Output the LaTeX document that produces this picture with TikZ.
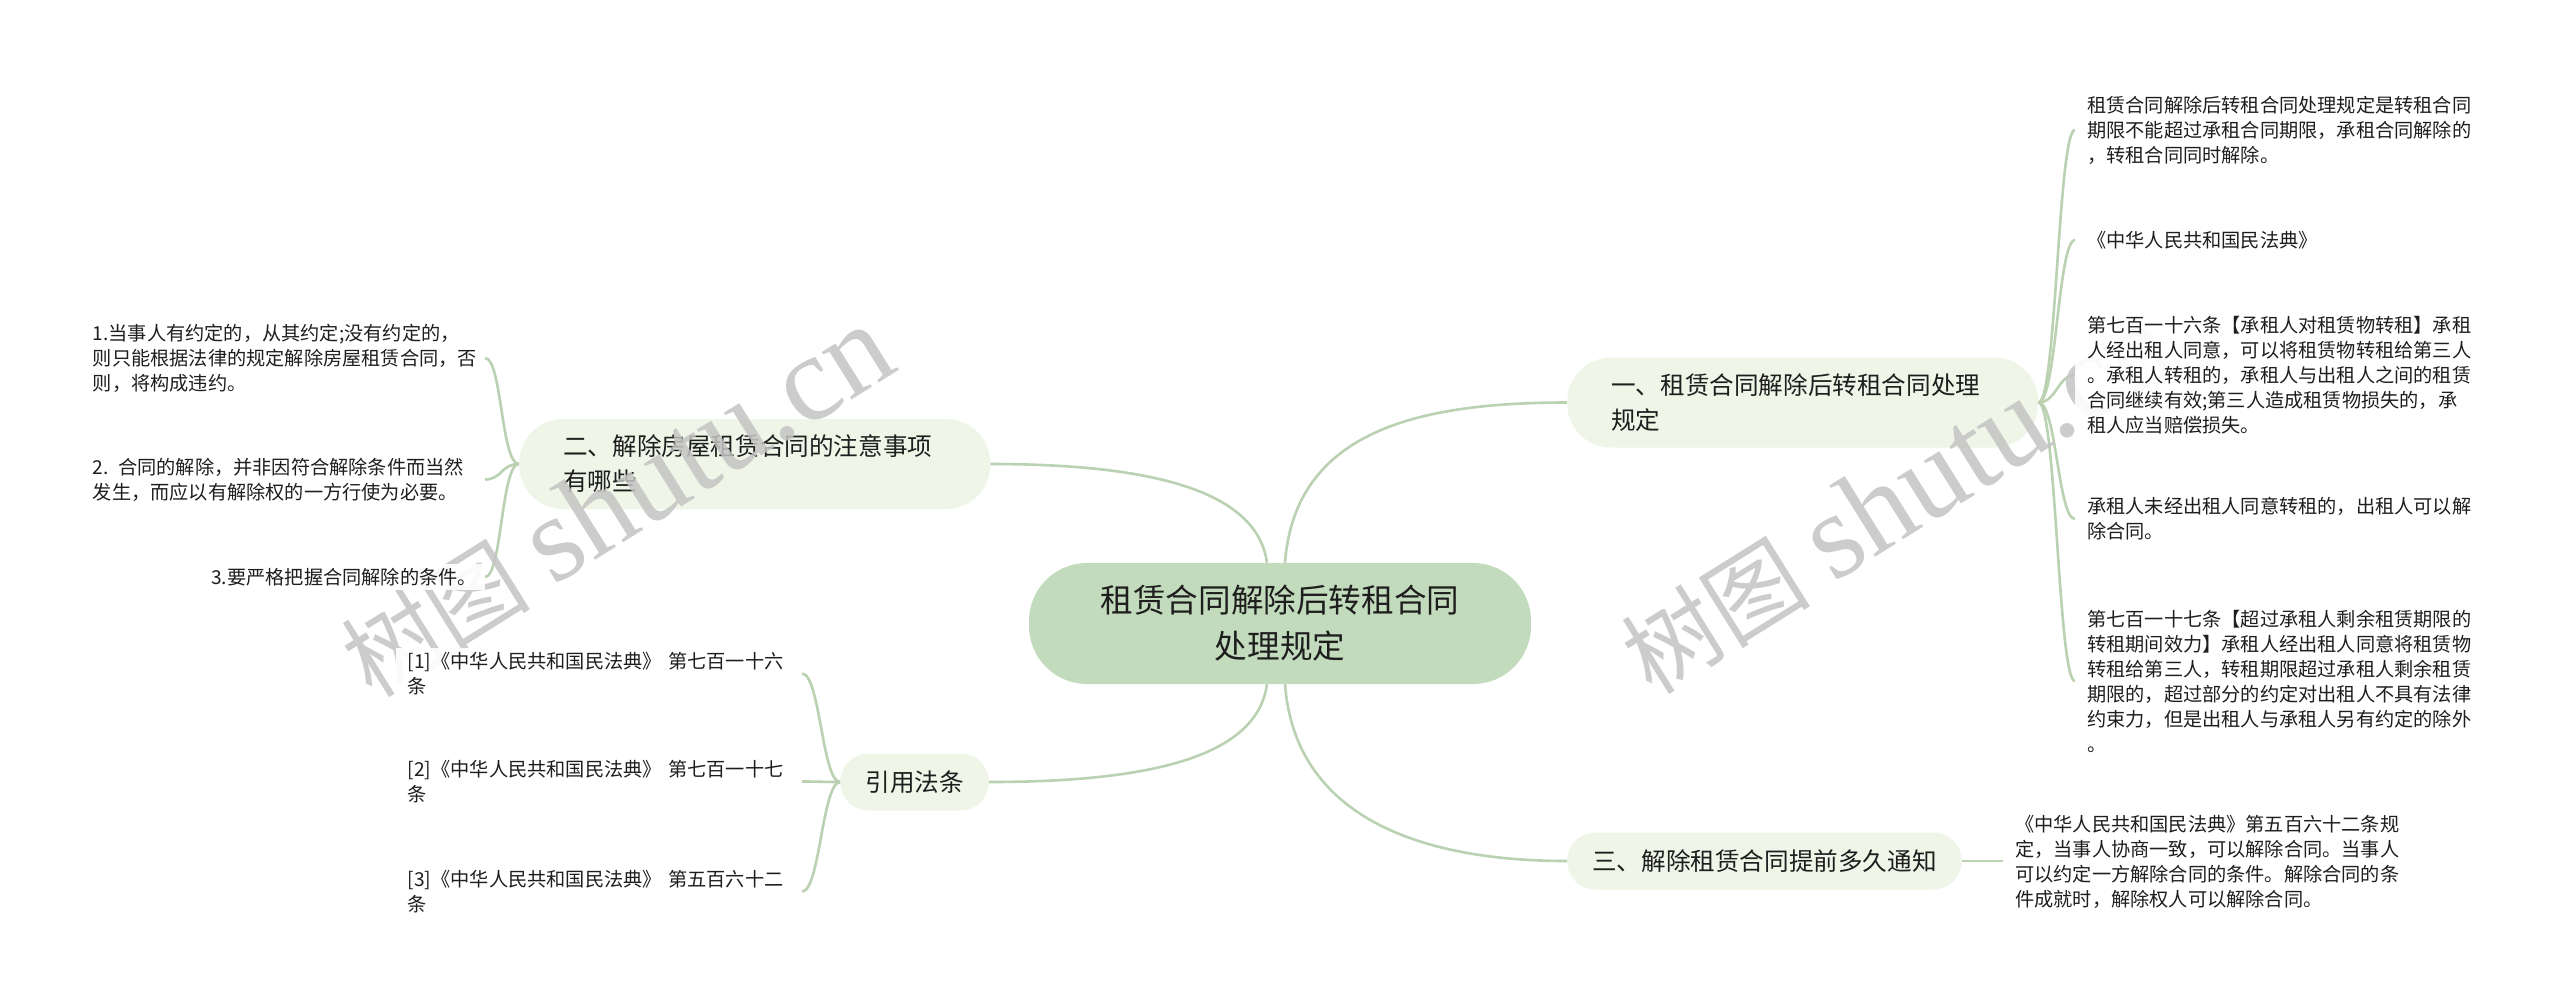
\documentclass[tikz,border=0pt]{standalone}
\usepackage{fontspec}
\setmainfont{Noto Sans CJK SC}
\newfontfamily\wmlatin{Liberation Serif}
\usetikzlibrary{calc}
\definecolor{lineg}{RGB}{186,209,178}
\definecolor{centerfill}{RGB}{194,219,188}
\definecolor{branchfill}{RGB}{239,245,231}
\definecolor{txt}{RGB}{30,30,30}
\definecolor{wm}{RGB}{196,196,196}
\pgfdeclarelayer{bg}
\pgfdeclarelayer{edges}
\pgfdeclarelayer{wmk}
\pgfdeclarelayer{top}
\pgfsetlayers{bg,edges,main,wmk,top}
\begin{document}
\begin{tikzpicture}[x=1pt,y=-1pt,
  conn/.style={draw=lineg, line width=2.6pt},
  centerbox/.style={fill=centerfill, rounded corners=58pt, minimum width=502pt, minimum height=121pt, align=center, font=\fontsize{32.6}{46}\selectfont, text=txt, inner sep=0pt},
  branchtwo/.style={fill=branchfill, rounded corners=44pt, text width=383pt, inner xsep=44pt, inner ysep=0pt, minimum height=90pt, align=left, font=\fontsize{24.6}{35}\selectfont, text=txt},
  branchone/.style={fill=branchfill, rounded corners=28pt, inner xsep=25pt, inner ysep=0pt, minimum height=57pt, font=\fontsize{24.6}{35}\selectfont, text=txt},
  leaf/.style={fill=white, fill opacity=0.9, text opacity=1, align=left, font=\fontsize{19.2}{25}\selectfont, text=txt, inner ysep=4pt},
  wmark/.style={text=wm, text opacity=0.85, inner sep=0pt},
]
\begin{pgfonlayer}{bg}
\fill[white] (0,0) rectangle (2560,1007);
\end{pgfonlayer}
\useasboundingbox (0,0) rectangle (2560,1007);

% center and branches
\node[centerbox] (c) at (1280,623.5) {租赁合同解除后转租合同\\处理规定};
\node[branchtwo, anchor=west] (b1) at (1567,402.5) {一、租赁合同解除后转租合同处理\\规定};
\node[branchtwo, anchor=west] (b2) at (519,464) {二、解除房屋租赁合同的注意事项\\有哪些};
\node[branchone, anchor=east] (b4) at (989,782) {引用法条};
\node[branchone, anchor=west] (b3) at (1567,861) {三、解除租赁合同提前多久通知};

% watermarks
\begin{pgfonlayer}{wmk}
\node[wmark, rotate=32, anchor=base west] (w1) at (372,700) {\fontsize{95}{95}\selectfont 树图\hspace{0.25em}{\wmlatin\fontsize{122}{122}\selectfont shutu.cn}};
\node[wmark, rotate=32, anchor=base west] (w2) at (1652,697) {\fontsize{95}{95}\selectfont 树图\hspace{0.25em}{\wmlatin\fontsize{122}{122}\selectfont shutu.cn}};
\end{pgfonlayer}

\begin{pgfonlayer}{top}
% right leaves of branch 1
\node[leaf, anchor=west, inner xsep=12pt] (r1) at (2075,130) {租赁合同解除后转租合同处理规定是转租合同\\期限不能超过承租合同期限，承租合同解除的\\，转租合同同时解除。};
\node[leaf, anchor=west, inner xsep=12pt] (r2) at (2075,240) {《中华人民共和国民法典》};
\node[leaf, anchor=west, inner xsep=12pt] (r3) at (2075,375) {第七百一十六条【承租人对租赁物转租】承租\\人经出租人同意，可以将租赁物转租给第三人\\。承租人转租的，承租人与出租人之间的租赁\\合同继续有效;第三人造成租赁物损失的，承\\租人应当赔偿损失。};
\node[leaf, anchor=west, inner xsep=12pt] (r4) at (2075,519) {承租人未经出租人同意转租的，出租人可以解\\除合同。};
\node[leaf, anchor=west, inner xsep=12pt] (r5) at (2075,681) {第七百一十七条【超过承租人剩余租赁期限的\\转租期间效力】承租人经出租人同意将租赁物\\转租给第三人，转租期限超过承租人剩余租赁\\期限的，超过部分的约定对出租人不具有法律\\约束力，但是出租人与承租人另有约定的除外\\。};
% left leaves of branch 2
\node[leaf, anchor=east, inner xsep=8pt, text width=384pt] (l1) at (485,358) {1.当事人有约定的，从其约定;没有约定的，\\则只能根据法律的规定解除房屋租赁合同，否\\则，将构成违约。};
\node[leaf, anchor=east, inner xsep=8pt, text width=384pt] (l2) at (485,479.5) {2. 合同的解除，并非因符合解除条件而当然\\发生，而应以有解除权的一方行使为必要。};
\node[leaf, anchor=east, inner xsep=8pt] (l3) at (485,577) {3.要严格把握合同解除的条件。};
% citations
\node[leaf, anchor=east, inner xsep=12pt, text width=382pt] (k1) at (802,673.5) {[1]《中华人民共和国民法典》 第七百一十六\\条};
\node[leaf, anchor=east, inner xsep=12pt, text width=382pt] (k2) at (802,781.5) {[2]《中华人民共和国民法典》 第七百一十七\\条};
\node[leaf, anchor=east, inner xsep=12pt, text width=382pt] (k3) at (802,891.5) {[3]《中华人民共和国民法典》 第五百六十二\\条};
% branch 3 leaf
\node[leaf, anchor=west, inner xsep=12pt] (t1) at (2003,862) {《中华人民共和国民法典》第五百六十二条规\\定，当事人协商一致，可以解除合同。当事人\\可以约定一方解除合同的条件。解除合同的条\\件成就时，解除权人可以解除合同。};
\end{pgfonlayer}

\begin{pgfonlayer}{edges}
\draw[conn] ([xshift=5pt]c.north) .. controls (1295,430) and (1420,402.5) .. (b1.west);
\draw[conn] ([xshift=5pt]c.south) .. controls (1295,817) and (1420,861) .. (b3.west);
\draw[conn] ([xshift=-13pt]c.north) .. controls (1257,490) and (1150,464) .. (b2.east);
\draw[conn] ([xshift=-13pt]c.south) .. controls (1257,757) and (1150,782) .. (b4.east);
\foreach \n in {r1,r2,r3,r4,r5}
  \draw[conn] (b1.east) .. controls +(18,0) and +(-17,0) .. (\n.west);
\foreach \n in {l1,l2,l3}
  \draw[conn] (b2.west) .. controls +(-18,0) and +(17,0) .. (\n.east);
\foreach \n in {k1,k2,k3}
  \draw[conn] (b4.west) .. controls +(-18,0) and +(18,0) .. (\n.east);
\draw[conn] (b3.east) -- (b3.east -| t1.west);
\end{pgfonlayer}
\end{tikzpicture}
\end{document}
